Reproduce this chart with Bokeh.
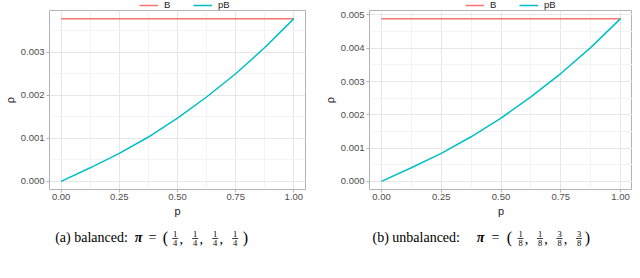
import math
from bokeh.plotting import figure
from bokeh.layouts import row, column
from bokeh.models import (Range1d, FixedTicker, NumeralTickFormatter, Label,
                          Legend, LegendItem, BoxAnnotation)
from bokeh.embed import file_html
from bokeh.resources import INLINE

# ---- data ----
p_vals = [0.0, 0.125, 0.25, 0.375, 0.5, 0.625, 0.75, 0.875, 1.0]
B_bal = 0.00378
pB_bal = [0.0, 0.000315, 0.00065, 0.00103, 0.00147, 0.00196, 0.0025, 0.00311, 0.00378]
B_unb = 0.00489
pB_unb = [0.0, 0.00041, 0.00084, 0.00134, 0.0019, 0.00254, 0.00324, 0.00402, 0.00489]
x_ticks = [0.0, 0.25, 0.5, 0.75, 1.0]
x_minor = [0.125, 0.375, 0.625, 0.875]
y_ticks_bal = [0.0, 0.001, 0.002, 0.003]
y_minor_bal = [0.0005, 0.0015, 0.0025, 0.0035]
y_ticks_unb = [0.0, 0.001, 0.002, 0.003, 0.004, 0.005]
y_minor_unb = [0.0005, 0.0015, 0.0025, 0.0035, 0.0045]
series_labels = ["B", "pB"]
x_title = "p"
y_title = "ρ"
caption_a = ["(a) balanced:", ["1", "1", "1", "1"], ["4", "4", "4", "4"]]
caption_b = ["(b) unbalanced:", ["1", "1", "3", "3"], ["8", "8", "8", "8"]]

RED = "#F8766D"
TEAL = "#00BFC4"
SANS = "Liberation Sans"
SERIF = "Liberation Serif"
NAN = float("nan")


def bare(fig):
    fig.xaxis.visible = False
    fig.yaxis.visible = False
    fig.grid.visible = False
    fig.outline_line_color = None
    fig.background_fill_color = "white"
    fig.border_fill_color = "white"


# ---- legend strip (page y 8..18) ----
leg = figure(width=632, height=10, output_backend="svg", toolbar_location=None,
             x_range=Range1d(0, 1), y_range=Range1d(0, 1),
             min_border_left=0, min_border_right=0, min_border_top=0, min_border_bottom=0)
bare(leg)
# invisible key renderers (no drawable points), only used for the legend keys
k1 = leg.line([NAN, NAN], [NAN, NAN], line_color=RED, line_width=1.5)
k2 = leg.line([NAN, NAN], [NAN, NAN], line_color=TEAL, line_width=1.5)
for lx in (139, 465):
    lg = Legend(items=[LegendItem(label=series_labels[0], renderers=[k1]),
                       LegendItem(label=series_labels[1], renderers=[k2])],
                orientation="horizontal", location=(lx, 0),
                background_fill_alpha=0, border_line_alpha=0,
                padding=0, margin=0, spacing=9, label_standoff=6,
                glyph_width=19, glyph_height=8, label_height=8,
                label_text_font=SANS, label_text_font_size="9.5px",
                label_text_color="#1A1A1A")
    leg.add_layout(lg)


def make_panel(B, pB, yt, ym, left, right):
    p = figure(width=316, height=216, output_backend="svg", toolbar_location=None,
               x_range=Range1d(-0.05, 1.05), y_range=Range1d(-0.05 * B, 1.05 * B),
               min_border_left=left, min_border_right=right, min_border_top=0,
               min_border_bottom=37)
    p.outline_line_color = "#B3B3B3"
    p.outline_line_width = 1
    p.background_fill_color = "white"
    p.border_fill_color = "white"

    p.line([p_vals[0], p_vals[-1]], [B, B], line_color=RED, line_width=1.5)
    p.line(p_vals, pB, line_color=TEAL, line_width=1.5)

    p.xaxis.ticker = FixedTicker(ticks=x_ticks, minor_ticks=x_minor)
    p.yaxis.ticker = FixedTicker(ticks=yt, minor_ticks=ym)
    p.xaxis.formatter = NumeralTickFormatter(format="0.00")
    p.yaxis.formatter = NumeralTickFormatter(format="0.000")
    for ax in (p.xaxis, p.yaxis):
        ax.axis_line_color = None
        ax.major_tick_line_color = "#B3B3B3"
        ax.major_tick_out = 3
        ax.major_tick_in = 0
        ax.minor_tick_line_color = None
        ax.major_label_text_font = SANS
        ax.major_label_text_font_size = "9.5px"
        ax.major_label_text_color = "#4D4D4D"
        ax.major_label_standoff = 1
        ax.axis_label_text_font = SANS
        ax.axis_label_text_font_size = "11px"
        ax.axis_label_text_font_style = "normal"
        ax.axis_label_text_color = "#1A1A1A"
    p.xaxis.axis_label = x_title
    p.yaxis.axis_label = y_title
    p.xaxis.major_label_standoff = 0
    p.xaxis.axis_label_standoff = 2
    p.yaxis.axis_label_standoff = 2
    for g in (p.xgrid, p.ygrid):
        g.grid_line_color = "#E6E6E6"
        g.grid_line_width = 1
        g.minor_grid_line_color = "#F3F3F3"
        g.minor_grid_line_width = 1
    return p


p1 = make_panel(B_bal, pB_bal, y_ticks_bal, y_minor_bal, 42, 11)
p2 = make_panel(B_unb, pB_unb, y_ticks_unb, y_minor_unb, 53, 0)

# ---- caption strip (page pixels: x from 8, y from 234 to 278) ----
cap = figure(width=632, height=44, output_backend="svg", toolbar_location=None,
             x_range=Range1d(8, 640), y_range=Range1d(278, 234),
             min_border_left=0, min_border_right=0, min_border_top=0, min_border_bottom=0)
bare(cap)


def caption(parts, start, pi_x, eq_x, lp_x, fr_xs, rp_x, cy=244.5):
    cap.add_layout(Label(x=start, y=cy, text=parts[0], text_align="left",
                         text_baseline="middle", text_font=SERIF,
                         text_font_size="14px", text_color="black"))
    cap.add_layout(Label(x=pi_x, y=cy, text="π", text_align="center",
                         text_baseline="middle", text_font=SERIF, text_font_size="14px",
                         text_font_style="bold italic", text_color="black"))
    cap.add_layout(Label(x=eq_x, y=cy, text="=", text_align="center",
                         text_baseline="middle", text_font=SERIF,
                         text_font_size="14px", text_color="black"))
    for px, t in ((lp_x, "("), (rp_x, ")")):
        cap.add_layout(Label(x=px, y=cy + 0.5, text=t, text_align="center",
                             text_baseline="middle", text_font=SERIF,
                             text_font_size="16px", text_color="black"))
    for i, fx in enumerate(fr_xs):
        cap.add_layout(Label(x=fx, y=cy - 3.5, text=parts[1][i], text_align="center",
                             text_baseline="middle", text_font=SERIF,
                             text_font_size="8.5px", text_color="black"))
        cap.add_layout(Label(x=fx, y=cy + 6, text=parts[2][i], text_align="center",
                             text_baseline="middle", text_font=SERIF,
                             text_font_size="8.5px", text_color="black"))
        cap.add_layout(BoxAnnotation(left=fx - 3, right=fx + 3,
                                     top=cy + 1.0, bottom=cy + 1.7,
                                     fill_color="black", fill_alpha=1, line_alpha=0))
        if i < len(fr_xs) - 1:
            cap.add_layout(Label(x=fx + 6, y=cy + 1.5, text=",", text_align="center",
                                 text_baseline="middle", text_font=SERIF,
                                 text_font_size="14px", text_color="black"))


caption(caption_a, 62.7, 146, 160, 173, [182.7, 202.7, 222.7, 242.7], 253)
caption(caption_b, 380, 488, 503, 517, [528, 547.5, 567, 586.5], 595)

layout = column(leg, row(p1, p2), cap)
open("out.html", "w").write(file_html(layout, INLINE))
